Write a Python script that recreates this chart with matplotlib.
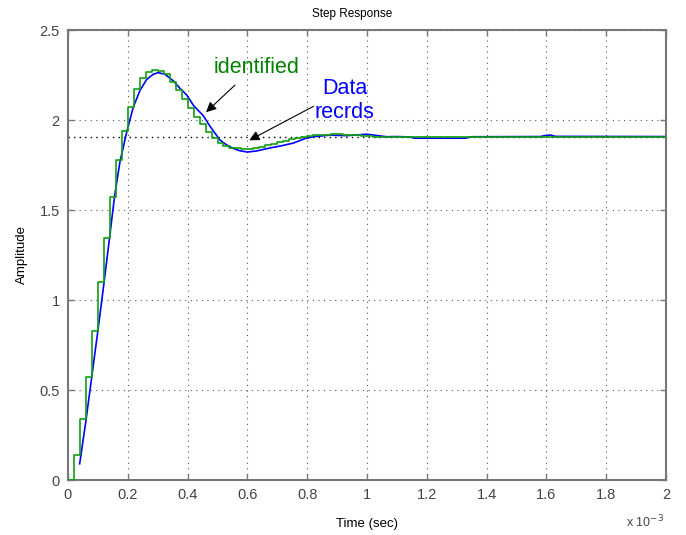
import numpy as np
import matplotlib
matplotlib.use("Agg")
import matplotlib.pyplot as plt

plt.rcParams["font.family"] = ["Liberation Sans", "DejaVu Sans"]

# identified model: zero-order-hold samples, time in units of 1e-3 s
ident_t = np.append(np.arange(0, 1.04, 0.02), 2.0)
ident_y = [0.0, 0.14, 0.34, 0.57, 0.83, 1.10, 1.345, 1.575, 1.78, 1.94,
           2.07, 2.17, 2.235, 2.265, 2.278, 2.272, 2.255, 2.213, 2.167, 2.117,
           2.065, 2.018, 1.976, 1.935, 1.898, 1.870, 1.856, 1.845, 1.843, 1.838,
           1.840, 1.846, 1.852, 1.860, 1.868, 1.877, 1.886, 1.894, 1.900, 1.905,
           1.910, 1.914, 1.917, 1.919, 1.920, 1.920, 1.919, 1.917, 1.915, 1.912,
           1.910, 1.908, 1.908]

# measured data records
data_t = [0.039, 0.06, 0.08, 0.10, 0.12, 0.14, 0.156, 0.174, 0.196, 0.218,
          0.241, 0.263, 0.285, 0.302, 0.324, 0.352, 0.375, 0.397, 0.42, 0.452,
          0.475, 0.508, 0.53, 0.553, 0.575, 0.60, 0.631, 0.676, 0.709, 0.754,
          0.793, 0.82, 0.876, 0.932, 0.999, 1.032, 1.066, 1.10, 1.14, 1.16,
          1.33, 1.35, 1.58, 1.60, 1.615, 1.63, 2.0]
data_y = [0.09, 0.33, 0.58, 0.83, 1.09, 1.36, 1.58, 1.77, 1.93, 2.07,
          2.165, 2.225, 2.254, 2.263, 2.254, 2.218, 2.175, 2.139, 2.08, 2.025,
          1.965, 1.889, 1.862, 1.842, 1.829, 1.822, 1.828, 1.845, 1.855, 1.872,
          1.897, 1.907, 1.916, 1.913, 1.921, 1.914, 1.907, 1.908, 1.906, 1.899,
          1.899, 1.907, 1.908, 1.915, 1.916, 1.909, 1.908]

final_value = 1.908
xticks = [0, 0.2, 0.4, 0.6, 0.8, 1, 1.2, 1.4, 1.6, 1.8, 2]
yticks = [0, 0.5, 1, 1.5, 2, 2.5]

fig = plt.figure(figsize=(6.86, 5.35), dpi=100)
ax = fig.add_axes([68 / 686, 1 - 480 / 535, 598 / 686, 450 / 535])

ax.axhline(final_value, color="black", ls=(0, (1, 3)), lw=1.0, zorder=1)
ax.plot(data_t, data_y, color="#0000ff", lw=1.2, zorder=2)
ax.step(ident_t, ident_y, where="post", color="#10a010", lw=1.2, zorder=3)

ax.set_xlim(0, 2)
ax.set_ylim(0, 2.5)
ax.set_xticks(xticks)
ax.set_xticklabels([f"{v:g}" for v in xticks])
ax.set_yticks(yticks)
ax.set_yticklabels([f"{v:g}" for v in yticks])
ax.grid(True, color="#555555", ls=(0, (1, 4)), lw=0.8)
ax.tick_params(direction="in", top=True, right=True, length=4, width=1,
               color="#777777", labelcolor="#444444", labelsize=10.5, pad=6)
for s in ax.spines.values():
    s.set_color("#777777")
    s.set_linewidth(1.5)

ax.set_title("Step Response", fontsize=8.5, x=0.475, pad=9)
ax.set_xlabel("Time (sec)", fontsize=9.5, labelpad=11)
ax.set_ylabel("Amplitude", fontsize=9.5, labelpad=8)
fig.text(626 / 686, 1 - 527 / 535, r"x 10$^{-3}$", fontsize=9, color="#444444")

ax.text(0.629, 2.294, "identified", color="#008000", fontsize=15.5,
        ha="center", va="center")
ax.text(0.926, 2.11, "Data\nrecrds", color="#0000ff", fontsize=15.5,
        ha="center", va="center", linespacing=1.2)
arrow = dict(arrowstyle="-|>", color="black", lw=0.8, mutation_scale=15)
ax.annotate("", xy=(0.455, 2.033), xytext=(0.565, 2.204), arrowprops=arrow)
ax.annotate("", xy=(0.598, 1.88), xytext=(0.829, 2.083), arrowprops=arrow)

fig.savefig("out.png", dpi=100)
